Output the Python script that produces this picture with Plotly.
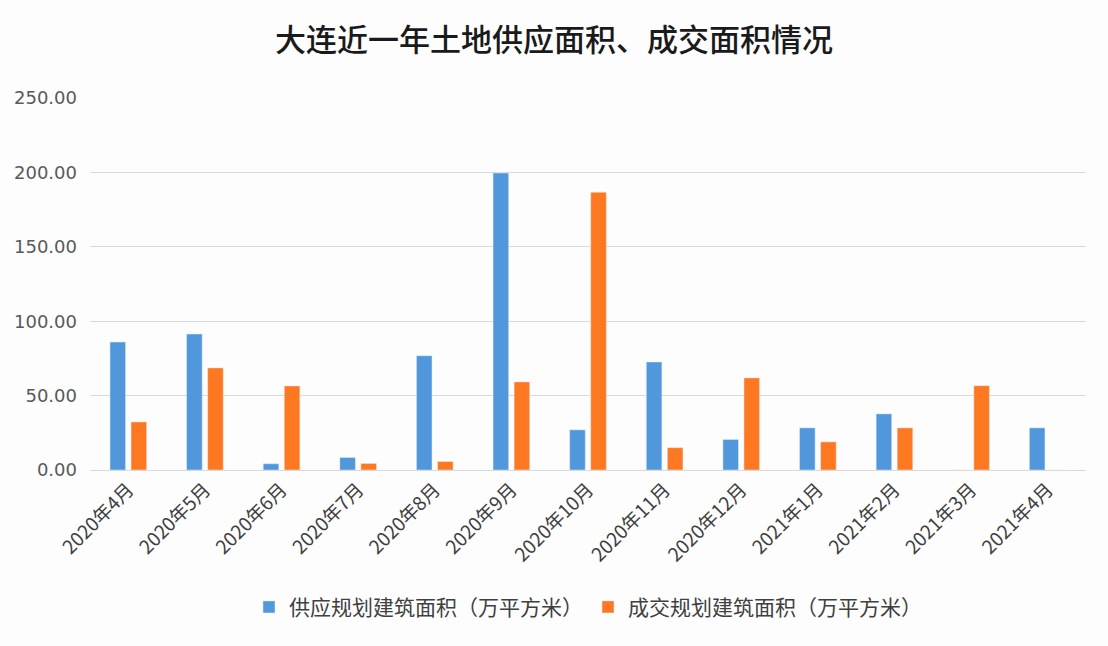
import plotly.graph_objects as go

categories = ["2020年4月", "2020年5月", "2020年6月", "2020年7月", "2020年8月", "2020年9月",
              "2020年10月", "2020年11月", "2020年12月", "2021年1月", "2021年2月", "2021年3月", "2021年4月"]
supply = [86.0, 91.4, 4.2, 8.4, 76.8, 199.6, 27.0, 72.6, 20.5, 28.3, 37.7, 0, 28.3]
deal = [32.3, 68.6, 56.5, 4.4, 5.7, 59.2, 186.7, 15.0, 61.9, 18.9, 28.3, 56.7, 0]
series_names = ["供应规划建筑面积（万平方米）", "成交规划建筑面积（万平方米）"]
y_ticks = [0, 50, 100, 150, 200, 250]

CJK = "Noto Sans CJK SC"

fig = go.Figure()
fig.add_trace(go.Bar(x=categories, y=supply, name=series_names[0], marker_color="#5097dc"))
fig.add_trace(go.Bar(x=categories, y=deal, name=series_names[1], marker_color="#fd7820"))

fig.update_layout(
    width=1108, height=646,
    margin=dict(l=90, r=22, t=98, b=176),
    paper_bgcolor="#fdfdfd", plot_bgcolor="#fdfdfd",
    barmode="group", bargap=0.45, bargroupgap=0.26,
    title=dict(text="大连近一年土地供应面积、成交面积情况", x=0.5, xanchor="center",
               y=1 - 40 / 646, yanchor="middle",
               font=dict(family=CJK, size=31, color="#1a1a1a", weight=500)),
    legend=dict(orientation="h", x=0.5, xanchor="center", y=-0.369, yanchor="middle",
                font=dict(family=CJK, size=21, color="#404040"), itemwidth=30,
                bgcolor="rgba(0,0,0,0)"),
    font=dict(family=CJK),
)
fig.update_xaxes(tickangle=-45, tickfont=dict(family=CJK, size=19, color="#404040"),
                 showline=True, linecolor="#d9d9d9", linewidth=1, ticks="", showgrid=False)
fig.update_yaxes(range=[0, 250], tickvals=y_ticks, tickformat=".2f",
                 tickfont=dict(family="DejaVu Sans", size=18, color="#595959"),
                 gridcolor="#d9d9d9", gridwidth=1, zeroline=False, showline=False,
                 ticklabelstandoff=12)

fig.write_html("out.html")
